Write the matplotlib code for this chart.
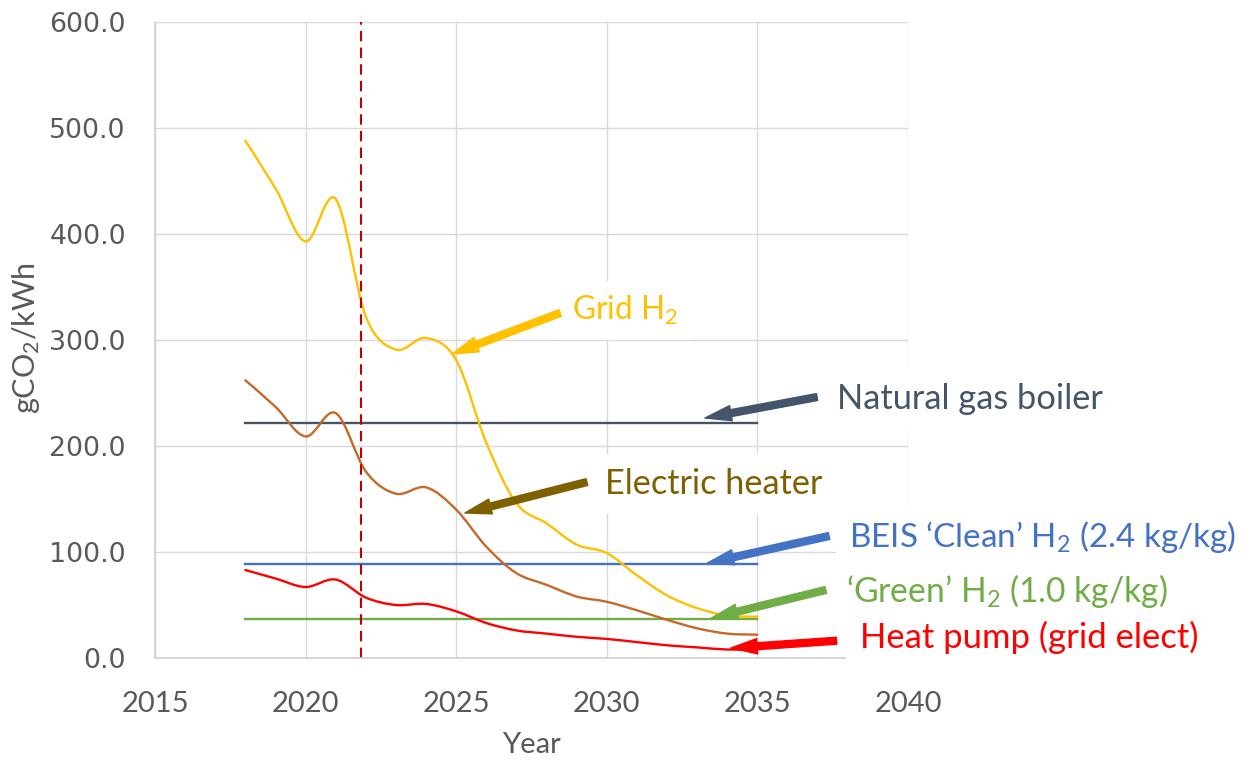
import matplotlib
matplotlib.use("Agg")
import matplotlib.pyplot as plt
from matplotlib.path import Path
from matplotlib.patches import PathPatch, FancyArrowPatch
import numpy as np

plt.rcParams['font.family'] = ['Lato', 'DejaVu Sans']
plt.rcParams['mathtext.fontset'] = 'custom'
plt.rcParams['mathtext.rm'] = 'Lato'
plt.rcParams['mathtext.it'] = 'Lato:italic'
plt.rcParams['mathtext.bf'] = 'Lato:bold'

# ---------------- data ----------------
years = [2018, 2019, 2020, 2021, 2022, 2023, 2024, 2025, 2026,
         2027, 2028, 2029, 2030, 2031, 2032, 2033, 2034, 2035]
grid_h2 = [488, 443, 393, 433, 322, 291, 302, 281, 203,
           146, 127, 107, 99, 78, 59, 47, 40, 39]
electric_heater = [262, 237, 209, 231, 176, 155, 161, 140, 105,
                   80, 69, 58, 53, 45, 36, 28, 23, 22]
heat_pump = [83, 75, 67, 74, 57, 50, 51, 44, 33,
             26, 23, 20, 18, 15, 12, 10, 8, 8]
natural_gas_boiler = 222
beis_clean_h2 = 89
green_h2 = 37
marker_year = 2021.83

x_ticks = [2015, 2020, 2025, 2030, 2035, 2040]
y_ticks = [0, 100, 200, 300, 400, 500, 600]

labels = {
    'grid': 'Grid H$_\\mathregular{2}$',
    'gas': 'Natural gas boiler',
    'elec': 'Electric heater',
    'beis': 'BEIS \u2018Clean\u2019 H$_\\mathregular{2}$ (2.4 kg/kg)',
    'green': '\u2018Green\u2019 H$_\\mathregular{2}$ (1.0 kg/kg)',
    'hp': 'Heat pump (grid elect)',
}

# ---------------- figure ----------------
W, H = 1251, 762
fig = plt.figure(figsize=(W / 100, H / 100), dpi=100)
ax = fig.add_axes([155 / W, 1 - 658 / H, (908 - 155) / W, (658 - 22) / H])
ax.set_xlim(2015, 2040)
ax.set_ylim(0, 600)
ax.set_xticks(x_ticks)
ax.set_yticks(y_ticks)
ax.set_yticklabels([f"{v:.1f}" for v in y_ticks], family='DejaVu Sans',
                   fontsize=19.3, color='#595959')
ax.set_xticklabels([str(v) for v in x_ticks], fontsize=21, color='#595959')
ax.tick_params(axis='both', length=0)
ax.tick_params(axis='y', pad=21)
ax.tick_params(axis='x', pad=24)
ax.grid(True, color='#D9D9D9', lw=1.0, zorder=0)
ax.set_axisbelow(True)
for s in ['top', 'right']:
    ax.spines[s].set_visible(False)
for s in ['left', 'bottom']:
    ax.spines[s].set_color('#D0D0D0')
    ax.spines[s].set_linewidth(1.2)

ax.set_xlabel('Year', fontsize=21, color='#595959')
ax.xaxis.label.set_va('center')
ax.xaxis.set_label_coords(0.5, -0.137)
ax.set_ylabel('gCO$_\\mathregular{2}$/kWh', fontsize=22, color='#595959')
ax.yaxis.label.set_va('center')
ax.yaxis.set_label_coords(-0.171, 0.503)


def smooth_path(x, y):
    """Excel-style smoothed line: cubic Bezier segments through the points."""
    pts = np.column_stack([x, y]).astype(float)
    n = len(pts)
    verts = [pts[0]]
    codes = [Path.MOVETO]
    for i in range(n - 1):
        p0 = pts[i - 1] if i > 0 else pts[i]
        p1 = pts[i]
        p2 = pts[i + 1]
        p3 = pts[i + 2] if i + 2 < n else pts[i + 1]
        verts += [p1 + (p2 - p0) / 6.0, p2 - (p3 - p1) / 6.0, p2]
        codes += [Path.CURVE4] * 3
    return Path(verts, codes)


lw = 1.7
for series, col in [(heat_pump, '#FF0000'), (electric_heater, '#C5682A'),
                    (grid_h2, '#FFC000')]:
    ax.add_patch(PathPatch(smooth_path(years, series), fill=False,
                           edgecolor=col, lw=lw, zorder=2.2,
                           capstyle='round', joinstyle='round'))

for val, col in [(natural_gas_boiler, '#44546A'), (beis_clean_h2, '#4472C4'),
                 (green_h2, '#70AD47')]:
    ax.plot([years[0], years[-1]], [val, val], color=col, lw=lw, zorder=2.1)

ax.axvline(marker_year, color='#C00000', lw=1.5, linestyle=(0, (5, 3)),
           zorder=2.3)

# ---------------- annotations ----------------
ann = [
    ('grid', '#FFC000', (2028.84, 318.9), (2028.45, 325.5), (2024.86, 286.8), 106),
    ('gas', '#44546A', (2037.64, 234.9), (2036.98, 246.2), (2033.26, 226.4), 266),
    ('elec', '#7F6000', (2029.94, 154.7), (2029.34, 166.0), (2025.29, 136.8), 218),
    ('beis', '#4472C4', (2038.04, 104.7), (2037.38, 115.1), (2033.34, 89.6), 388),
    ('green', '#70AD47', (2037.94, 52.8), (2037.27, 64.2), (2033.47, 37.7), 322),
    ('hp', '#FF0000', (2038.41, 9.4), (2037.63, 16.3), (2034.12, 9.4), 338),
]

texts = []
for key, col, tpos, tail, tip, target in ann:
    # white text box (background layer, hides grid lines like Excel text boxes)
    bg = ax.text(tpos[0], tpos[1], labels[key], color='none', fontsize=24,
                 ha='left', va='baseline', clip_on=False, zorder=3,
                 bbox=dict(boxstyle='square,pad=0.4', fc='white', ec='none'))
    t = ax.text(tpos[0], tpos[1], labels[key], color=col, fontsize=24,
                ha='left', va='baseline', clip_on=False, zorder=5)
    texts.append((t, bg, target))
    arr = FancyArrowPatch(tail, tip, transform=ax.transData,
                          arrowstyle='simple,head_length=19,head_width=11,tail_width=5',
                          color=col, shrinkA=0, shrinkB=0, clip_on=False,
                          zorder=4, mutation_scale=1)
    ax.add_patch(arr)

fig.canvas.draw()
r = fig.canvas.get_renderer()
for t, bg, target in texts:
    w = t.get_window_extent(r).width
    fs = t.get_fontsize() * target / w
    t.set_fontsize(fs)
    bg.set_fontsize(fs)

fig.savefig('out.png', dpi=100)
